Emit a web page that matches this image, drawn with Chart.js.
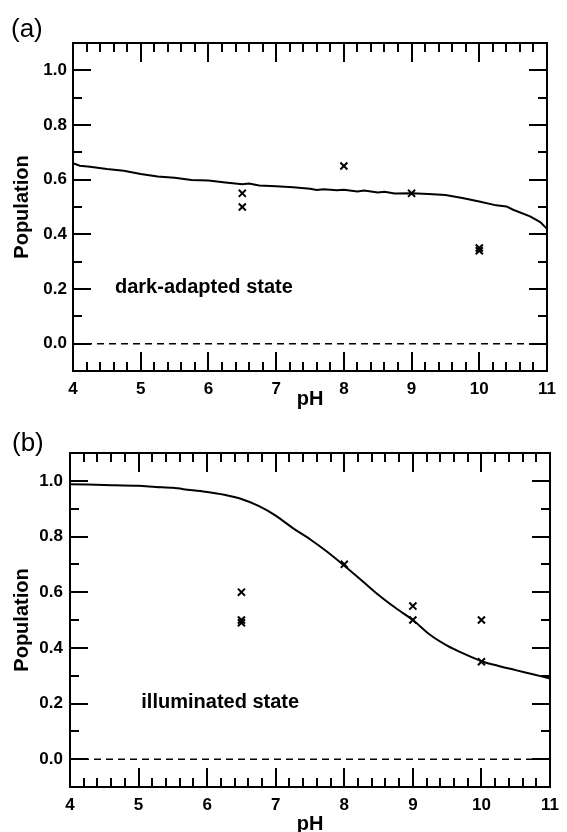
<!DOCTYPE html>
<html><head><meta charset="utf-8">
<script src="https://cdn.jsdelivr.net/npm/chart.js@4"></script>
<style>
html,body{margin:0;padding:0;background:#fff;width:567px;height:832px;overflow:hidden}
.p{position:absolute;left:0;width:567px;height:416px}
</style></head><body>
<div class="p" style="top:0"><canvas id="ca" width="567" height="416"></canvas></div>
<div class="p" style="top:416px"><canvas id="cb" width="567" height="416"></canvas></div>
<script>
// ---------- data ----------
const xTicks = [4, 5, 6, 7, 8, 9, 10, 11];
const yTicks = [0.0, 0.2, 0.4, 0.6, 0.8, 1.0];

// (a) dark-adapted state: fitted curve
const darkFitPH  = [4.0, 4.1, 4.25, 4.5, 4.75, 5.0, 5.25, 5.5, 5.75, 6.0, 6.25, 6.5, 6.6, 6.75, 7.0, 7.25, 7.5, 7.6, 7.7, 7.9, 8.0, 8.2, 8.3, 8.5, 8.6, 8.75, 9.0, 9.25, 9.5, 9.75, 10.0, 10.25, 10.4, 10.5, 10.75, 10.9, 11.0];
const darkFitPop = [0.660, 0.651, 0.647, 0.639, 0.633, 0.621, 0.612, 0.607, 0.599, 0.597, 0.590, 0.583, 0.586, 0.579, 0.576, 0.572, 0.567, 0.562, 0.565, 0.561, 0.563, 0.557, 0.560, 0.553, 0.556, 0.549, 0.550, 0.548, 0.544, 0.533, 0.520, 0.506, 0.502, 0.490, 0.466, 0.445, 0.420];
// (a) measured points
const darkObsPH  = [6.5, 6.5, 8.0, 9.0, 10.0, 10.0];
const darkObsPop = [0.55, 0.50, 0.65, 0.55, 0.35, 0.34];

// (b) illuminated state: fitted curve
const illumFitPH  = [4.0, 4.5, 5.0, 5.25, 5.5, 5.75, 6.0, 6.25, 6.5, 6.75, 7.0, 7.25, 7.5, 7.75, 8.0, 8.25, 8.5, 8.75, 9.0, 9.25, 9.5, 9.75, 10.0, 10.25, 10.5, 10.75, 11.0];
const illumFitPop = [0.988, 0.985, 0.982, 0.978, 0.975, 0.967, 0.960, 0.950, 0.935, 0.910, 0.875, 0.830, 0.790, 0.745, 0.695, 0.643, 0.590, 0.543, 0.500, 0.447, 0.408, 0.378, 0.352, 0.335, 0.320, 0.305, 0.290];
// (b) measured points
const illumObsPH  = [6.5, 6.5, 6.5, 8.0, 9.0, 9.0, 10.0, 10.0];
const illumObsPop = [0.60, 0.50, 0.49, 0.70, 0.55, 0.50, 0.50, 0.35];

const zeroPH = [4, 11];
const zeroPop = [0, 0];

// ---------- drawing ----------
const FAM = '"Liberation Sans", Arial, Helvetica, sans-serif';
const pts = (xs, ys) => xs.map((v, i) => ({x: v, y: ys[i]}));

const framePlugin = {
  id: 'frame',
  afterDatasetsDraw(chart, args, o) {
    const {ctx, chartArea: a, scales: {x, y}} = chart;
    ctx.save();
    ctx.strokeStyle = '#000';
    ctx.lineWidth = 2;
    ctx.strokeRect(a.left, a.top, a.right - a.left, a.bottom - a.top);
    ctx.beginPath();
    for (let i = 1; i < 35; i++) {
      const px = Math.round(x.getPixelForValue(4 + i * 0.2));
      const len = (i % 5 === 0) ? 19 : 9;
      ctx.moveTo(px, a.bottom); ctx.lineTo(px, a.bottom - len);
      ctx.moveTo(px, a.top); ctx.lineTo(px, a.top + len);
    }
    for (let j = 0; j <= 10; j++) {
      const py = Math.round(y.getPixelForValue(j / 10));
      const len = (j % 2 === 0) ? 18 : 9;
      ctx.moveTo(a.left, py); ctx.lineTo(a.left + len, py);
      ctx.moveTo(a.right, py); ctx.lineTo(a.right - len, py);
    }
    ctx.stroke();
    ctx.fillStyle = '#000';
    ctx.font = 'bold 20px ' + FAM;
    ctx.textAlign = 'left';
    ctx.textBaseline = 'middle';
    ctx.fillText(o.note, x.getPixelForValue(o.noteX), y.getPixelForValue(o.noteY));
    ctx.font = '26px ' + FAM;
    ctx.textBaseline = 'alphabetic';
    ctx.fillText(o.panel, o.panelX, o.panelY);
    ctx.restore();
  }
};

function makeChart(id, c) {
  const H = 416;
  return new Chart(document.getElementById(id), {
    type: 'scatter',
    data: {
      datasets: [
        {data: pts(zeroPH, zeroPop), showLine: true, borderColor: '#000', borderWidth: 1.5, borderDash: [7, 5], pointRadius: 0},
        {data: pts(c.fitPH, c.fitPop), showLine: true, borderColor: '#000', borderWidth: 2, pointRadius: 0, tension: c.tension},
        {data: pts(c.obsPH, c.obsPop), showLine: false, pointStyle: 'crossRot', pointRadius: 5, borderColor: '#000', borderWidth: 2, backgroundColor: '#000'}
      ]
    },
    options: {
      responsive: false,
      animation: false,
      devicePixelRatio: 1,
      layout: {padding: {left: 0, top: c.t, right: 567 - c.r, bottom: 0}},
      plugins: {
        legend: {display: false},
        tooltip: {enabled: false},
        frame: {note: c.note, noteX: c.noteX, noteY: c.noteY, panel: c.panel, panelX: c.panelX, panelY: c.panelY}
      },
      scales: {
        x: {
          type: 'linear', min: 4, max: 11,
          afterBuildTicks: s => { s.ticks = xTicks.map(v => ({value: v})); },
          afterFit: s => { s.height = H - c.b; },
          grid: {display: false, drawTicks: false},
          border: {display: false},
          ticks: {color: '#000', font: {family: FAM, size: 17, weight: 'bold'}, padding: 8, maxRotation: 0, autoSkip: false, callback: v => String(v)},
          title: {display: true, text: 'pH', color: '#000', font: {family: FAM, size: 20, weight: 'bold'}, padding: {top: 0, bottom: c.pb}}
        },
        y: {
          type: 'linear', min: -0.1, max: 1.1,
          afterBuildTicks: s => { s.ticks = yTicks.map(v => ({value: v})); },
          afterFit: s => { s.width = c.l; },
          grid: {display: false, drawTicks: false},
          border: {display: false},
          ticks: {color: '#000', font: {family: FAM, size: 17, weight: 'bold'}, padding: c.yp, callback: v => Number(v).toFixed(1)},
          title: {display: true, text: 'Population', color: '#000', font: {family: FAM, size: 20, weight: 'bold'}, padding: {top: 10, bottom: 0}}
        }
      }
    },
    plugins: [framePlugin]
  });
}

makeChart('ca', {l: 73, t: 43, r: 547, b: 371, pb: 4.5, yp: 6, tension: 0,
  fitPH: darkFitPH, fitPop: darkFitPop, obsPH: darkObsPH, obsPop: darkObsPop,
  note: 'dark-adapted state', noteX: 4.62, noteY: 0.204, panel: '(a)', panelX: 11, panelY: 37});
makeChart('cb', {l: 70, t: 37, r: 554, b: 371, pb: -4.5, yp: 7, tension: 0.3,
  fitPH: illumFitPH, fitPop: illumFitPop, obsPH: illumObsPH, obsPop: illumObsPop,
  note: 'illuminated state', noteX: 5.04, noteY: 0.205, panel: '(b)', panelX: 12, panelY: 35});
</script>
</body></html>
